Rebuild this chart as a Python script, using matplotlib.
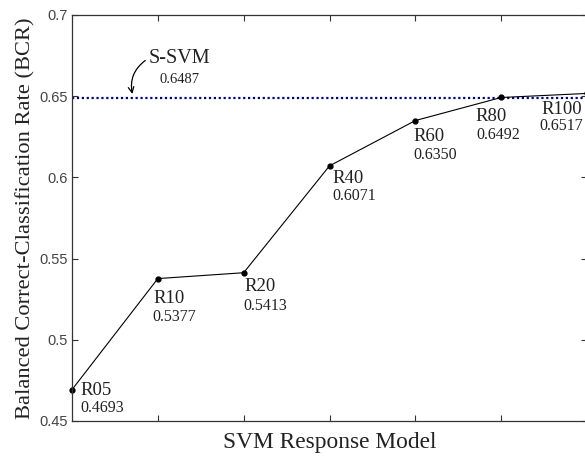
import matplotlib
matplotlib.use("Agg")
import matplotlib.pyplot as plt

# Balanced correct-classification rate of each SVM response model
models = ["R05", "R10", "R20", "R40", "R60", "R80", "R100"]
bcr = [0.4693, 0.5377, 0.5413, 0.6071, 0.6350, 0.6492, 0.6517]
ssvm_bcr = 0.6487
yticks = [0.45, 0.5, 0.55, 0.6, 0.65, 0.7]
ytick_labels = ["0.45", "0.5", "0.55", "0.6", "0.65", "0.7"]

# label offsets in pixels: (name dx, name dy, value dx, value dy)
label_offsets = [
    (8, -1, 8, -18),
    (-4, -20, -5, -38),
    (1, -14, 0, -33),
    (3, -13, 3, -30),
    (-2, -16, -2, -34),
    (-26, -19, -25, -38),
    (-46, -16, -48, -33),
]

serif = ["Liberation Serif", "DejaVu Serif"]
sans = ["Liberation Sans", "DejaVu Sans"]

fig = plt.figure(figsize=(5.85, 4.57), dpi=100)
ax = fig.add_axes([72 / 585, 1 - 421 / 457, (587 - 72) / 585, (421 - 15) / 457])

x = list(range(len(models)))
ax.axhline(ssvm_bcr, color="#00008b", linestyle=(0, (1, 1.2)), linewidth=1.6, zorder=1)
ax.plot(x, bcr, color="black", linewidth=0.8, marker="o", markersize=3.5, zorder=2,
        clip_on=False)

for xi, name, val, (ndx, ndy, vdx, vdy) in zip(x, models, bcr, label_offsets):
    ax.annotate(name, (xi, val), xytext=(ndx, ndy), textcoords="offset pixels",
                ha="left", va="center", fontsize=13.5, family=serif, color="#222222")
    ax.annotate(f"{val:.4f}", (xi, val), xytext=(vdx, vdy), textcoords="offset pixels",
                ha="left", va="center", fontsize=11.5, family=serif, color="#222222")

# S-SVM reference annotation with curved arrow
ax.annotate("", xy=(0.71, ssvm_bcr + 0.001), xytext=(0.88, 0.673),
            arrowprops=dict(arrowstyle="->", color="black", lw=0.9,
                            connectionstyle="arc3,rad=0.35"))
ax.text(0.89, 0.6735, "S-SVM", fontsize=14.5, family=serif, ha="left", va="center",
        color="#222222")
ax.text(1.02, 0.6605, f"{ssvm_bcr:.4f}", fontsize=10.5, family=serif, ha="left",
        va="center", color="#222222")

ax.set_xlim(0, 6)
ax.set_ylim(0.45, 0.7)
ax.set_xticks(x[1:-1])
ax.set_xticklabels([])
ax.set_yticks(yticks)
ax.set_yticklabels(ytick_labels, family=sans, fontsize=10.5, color="#444444")
ax.tick_params(direction="in", top=True, right=True, length=4, width=0.8,
               color="#333333", pad=3)
for s in ax.spines.values():
    s.set_linewidth(0.9)
    s.set_color("#333333")

ax.set_xlabel("SVM Response Model", family=serif, fontsize=16.8, labelpad=5,
              color="#222222")
ax.set_ylabel("Balanced Correct-Classification Rate (BCR)", family=serif,
              fontsize=16.2, labelpad=3, color="#222222")

fig.savefig("out.png", dpi=100)
